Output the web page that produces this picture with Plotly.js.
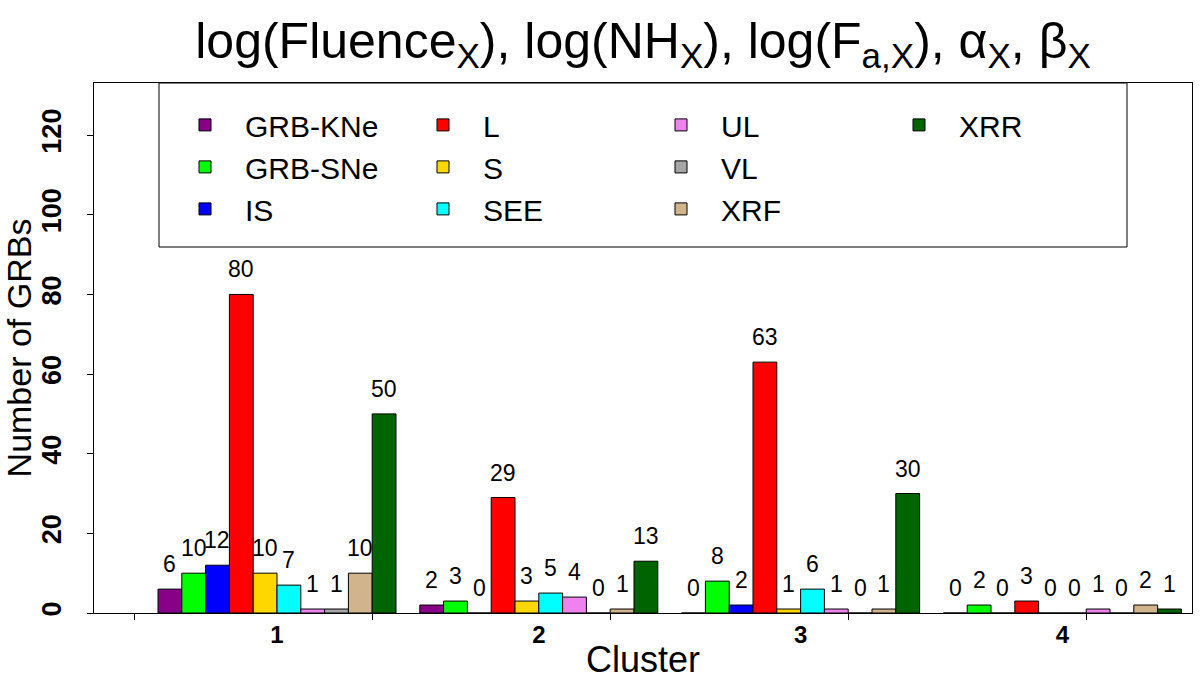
<!DOCTYPE html>
<html>
<head>
<meta charset="utf-8">
<script src="https://cdn.plot.ly/plotly-3.0.1.min.js"></script>
<style>html,body{margin:0;padding:0;background:#fff;}#chart{width:1200px;height:680px;}</style>
</head>
<body>
<div id="chart"></div>
<script>
// ---- data ----
const clusters = [1, 2, 3, 4];
const clusterLabels = ['1', '2', '3', '4'];
const classNames = ['GRB-KNe', 'GRB-SNe', 'IS', 'L', 'S', 'SEE', 'UL', 'VL', 'XRF', 'XRR'];
const grbKNe = [6, 2, 0, 0];
const grbSNe = [10, 3, 8, 2];
const isCounts = [12, 0, 2, 0];
const lCounts = [80, 29, 63, 3];
const sCounts = [10, 3, 1, 0];
const seeCounts = [7, 5, 6, 0];
const ulCounts = [1, 4, 1, 1];
const vlCounts = [1, 0, 0, 0];
const xrfCounts = [10, 1, 1, 2];
const xrrCounts = [50, 13, 30, 1];
const yTickVals = [0, 20, 40, 60, 80, 100, 120];
const barAxisTicks = [0, 10, 20, 30, 40];   // R barplot default axis ticks (bar units)

const seriesValues = [grbKNe, grbSNe, isCounts, lCounts, sCounts, seeCounts, ulCounts, vlCounts, xrfCounts, xrrCounts];
const colors = ['#880088', '#00FF00', '#0000FF', '#FF0000', '#FFD700', '#00FFFF', '#EE82EE', '#A6A6A6', '#D2B48C', '#006400'];

// ---- layout geometry ----
const M = {l: 94, r: 8, t: 83, b: 67};
const W = 1200, H = 680;
const plotW = W - M.l - M.r;
const plotH = H - M.t - M.b;
const xRange = [0.301, 4.495];
const barsPerCat = 11;
const barPx = plotW / ((xRange[1] - xRange[0]) * barsPerCat);
// convert R bar units to cluster units: group g centred at 6 + 11*(g-1)
const minorVals = barAxisTicks.map(v => (v - 6) / barsPerCat + 1);

const FONT = 'Liberation Sans, Arial, Helvetica, sans-serif';
const legendNames = ['legend', 'legend2', 'legend3', 'legend4'];

const traces = classNames.map((name, i) => ({
  type: 'bar',
  name: name,
  x: clusters,
  y: seriesValues[i],
  marker: {color: colors[i], line: {color: '#000000', width: 1}},
  legend: legendNames[Math.floor(i / 3)],
  hoverinfo: 'name+y'
}));

const annotations = [];
classNames.forEach((name, i) => {
  seriesValues[i].forEach((v, c) => {
    annotations.push({
      x: clusters[c], y: v, xref: 'x', yref: 'y',
      text: String(v), showarrow: false,
      xshift: (i - 4.5) * barPx, yshift: 10,
      yanchor: 'bottom', xanchor: 'center',
      font: {family: FONT, size: 23, color: '#000'}
    });
  });
});

const legendCommon = {
  orientation: 'v', yanchor: 'top', xanchor: 'left', y: 0.970,
  bgcolor: 'rgba(0,0,0,0)', borderwidth: 0,
  font: {family: FONT, size: 30, color: '#000'},
  itemwidth: 70, itemclick: false, itemdoubleclick: false
};
const legendColsPx = [165, 403, 641, 879];
const legends = {};
legendNames.forEach((ln, k) => {
  legends[ln] = Object.assign({}, legendCommon, {x: (legendColsPx[k] - M.l) / plotW});
});

const layout = Object.assign({
  width: W, height: H,
  margin: M,
  paper_bgcolor: '#fff', plot_bgcolor: '#fff',
  barmode: 'group', bargap: 1 / 11, bargroupgap: 0,
  showlegend: true,
  title: {
    text: 'log(Fluence<sub>X</sub>), log(NH<sub>X</sub>), log(F<sub>a,X</sub>), α<sub>X</sub>, β<sub>X</sub>',
    font: {family: FONT, size: 50, color: '#000'},
    x: 0.5, xref: 'paper', xanchor: 'center',
    y: 1 - 40 / H, yref: 'container', yanchor: 'middle'
  },
  xaxis: {
    type: 'linear', range: xRange,
    tickmode: 'array', tickvals: clusters, ticktext: clusterLabels,
    ticks: '',
    minor: {tickmode: 'array', tickvals: minorVals, ticks: 'outside', ticklen: 6, tickcolor: '#000', tickwidth: 1, showgrid: false},
    showline: true, mirror: true, linecolor: '#000', linewidth: 1,
    showgrid: false, zeroline: false,
    tickfont: {family: FONT, size: 24, color: '#000', weight: 'bold'},
    ticklabelstandoff: 0,
    title: {text: 'Cluster', font: {family: FONT, size: 36, color: '#000'}, standoff: 0}
  },
  yaxis: {
    range: [0, 133.1],
    tickmode: 'array', tickvals: yTickVals,
    ticks: 'outside', ticklen: 6, tickcolor: '#000',
    showline: true, mirror: true, linecolor: '#000', linewidth: 1,
    showgrid: false, zeroline: false,
    tickangle: -90,
    tickfont: {family: FONT, size: 27, color: '#000', weight: 'bold'},
    ticklabelstandoff: 15,
    title: {text: 'Number of GRBs', font: {family: FONT, size: 34, color: '#000'}, standoff: 0}
  },
  shapes: [{
    type: 'rect', xref: 'paper', yref: 'paper',
    x0: (159 - M.l) / plotW, x1: (1127 - M.l) / plotW,
    y0: (H - M.b - 247) / plotH, y1: 1,
    line: {color: '#000', width: 1}, fillcolor: 'rgba(0,0,0,0)', layer: 'above'
  }],
  annotations: annotations
}, legends);

Plotly.newPlot('chart', traces, layout, {displayModeBar: false, staticPlot: true});
</script>
</body>
</html>
